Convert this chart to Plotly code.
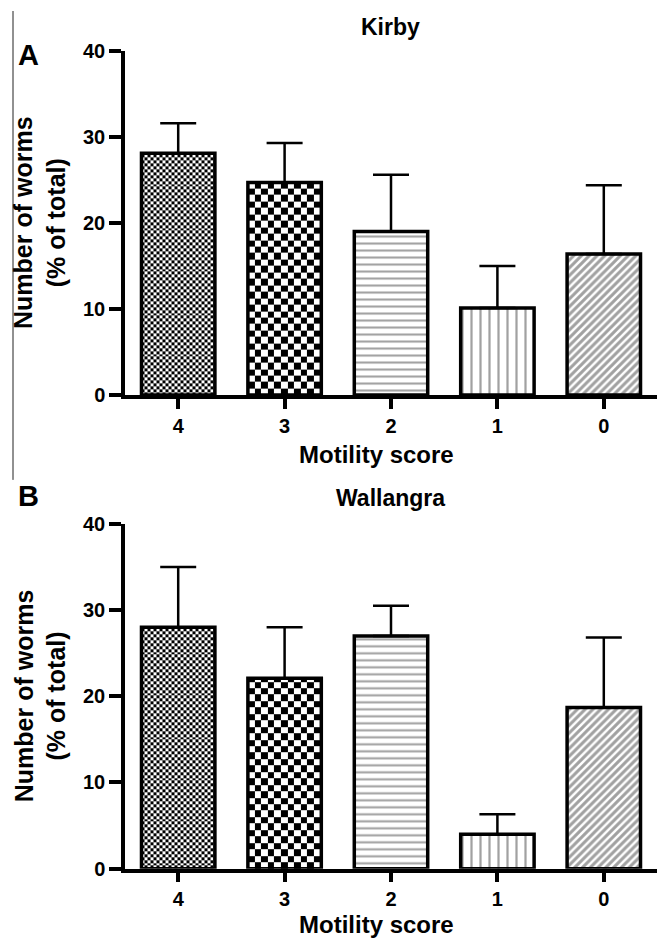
import numpy as np
import plotly.graph_objects as go

# ---------------- data ----------------
categories = ["4", "3", "2", "1", "0"]
kirby_mean = [28.1, 24.7, 19.0, 10.1, 16.4]
kirby_sem = [3.5, 4.6, 6.6, 4.9, 8.0]
wallangra_mean = [28.0, 22.1, 27.0, 4.0, 18.7]
wallangra_sem = [7.0, 5.9, 3.5, 2.3, 8.1]
panel_titles = ["Kirby", "Wallangra"]
panel_letters = ["A", "B"]
y_ticks = [0, 10, 20, 30, 40]

# ---------------- layout constants ----------------
W, H = 660, 949
L, R = 125, 3
PW = W - L - R
XR = [-0.5, 4.5]
YR = [0, 40]
BAR_W = 0.69
panels_px = [(41, 393), (525, 878)]  # (top, bottom) of plot areas in px
FONT = "Liberation Sans, Arial, Helvetica, sans-serif"

x_pos = list(range(len(categories)))
px_per_x = PW / (XR[1] - XR[0])

fig = go.Figure()

def checker(c, v, sq_px, px_per_y, xa, ya):
    dx = sq_px / px_per_x
    dy = sq_px / px_per_y
    x0, x1 = c - BAR_W / 2, c + BAR_W / 2
    xe = list(np.arange(x0, x1, dx)) + [x1]
    ye = list(np.arange(0, v, dy)) + [v]
    z = [[(i + j) % 2 for i in range(len(xe) - 1)] for j in range(len(ye) - 1)]
    return go.Heatmap(x=xe, y=ye, z=z, zmin=0, zmax=1,
                      colorscale=[[0, "white"], [1, "black"]],
                      showscale=False, hoverinfo="skip", xaxis=xa, yaxis=ya)

series = [(kirby_mean, kirby_sem), (wallangra_mean, wallangra_sem)]
for k, (means, sems) in enumerate(series):
    xa = "x" if k == 0 else "x2"
    ya = "y" if k == 0 else "y2"
    top, bot = panels_px[k]
    px_per_y = (bot - top) / (YR[1] - YR[0])
    # checkerboard textures for scores 4 and 3
    fig.add_trace(checker(x_pos[0], means[0], 3.0, px_per_y, xa, ya))
    fig.add_trace(checker(x_pos[1], means[1], 6.6, px_per_y, xa, ya))
    fig.add_trace(go.Bar(
        x=x_pos, y=means, width=BAR_W, xaxis=xa, yaxis=ya,
        marker=dict(
            color=["rgba(0,0,0,0)", "rgba(0,0,0,0)", "white", "white", "white"],
            line=dict(color="black", width=3.5),
            pattern=dict(shape=["", "", "-", "|", "/"],
                         size=[8, 8, 7, 9, 5.5],
                         solidity=[0.2, 0.2, 0.3, 0.25, 0.55],
                         fgcolor="black"),
        ),
        error_y=dict(type="data", symmetric=False, array=sems,
                     arrayminus=[0] * len(sems), color="black",
                     thickness=2.5, width=18),
        hoverinfo="skip",
    ))

axis_common = dict(showline=True, linecolor="black", linewidth=3.5,
                   showgrid=False, zeroline=False, ticks="outside",
                   tickcolor="black", tickwidth=3.5,
                   tickfont=dict(family=FONT, size=20, color="black", weight="bold"))

doms = [[1 - b / H, 1 - t / H] for (t, b) in panels_px]
fig.update_layout(
    width=W, height=H,
    margin=dict(l=L, r=R, t=0, b=0),
    paper_bgcolor="white", plot_bgcolor="white",
    showlegend=False, hovermode=False,
    xaxis=dict(domain=[0, 1], range=XR, tickvals=x_pos, ticktext=categories,
               ticklen=10, anchor="y", **axis_common),
    yaxis=dict(domain=doms[0], range=YR, tickvals=y_ticks, ticklen=12,
               anchor="x", **axis_common),
    xaxis2=dict(domain=[0, 1], range=XR, tickvals=x_pos, ticktext=categories,
                ticklen=10, anchor="y2", **axis_common),
    yaxis2=dict(domain=doms[1], range=YR, tickvals=y_ticks, ticklen=12,
                anchor="x2", **axis_common),
)

def px_x(p):
    return (p - L) / PW

def px_y(p):
    return 1 - p / H

title_y = [16, 499]
letter_y = [45, 497]
xtitle_y = [454, 935]
for k in range(2):
    top, bot = panels_px[k]
    fig.add_annotation(text=panel_titles[k], xref="paper", yref="paper",
                       x=px_x(390), y=px_y(title_y[k]), showarrow=False,
                       xanchor="center", yanchor="middle",
                       font=dict(family=FONT, size=23, color="black", weight="bold"))
    fig.add_annotation(text=panel_letters[k], xref="paper", yref="paper",
                       x=px_x(28), y=px_y(letter_y[k]), showarrow=False,
                       xanchor="center", yanchor="middle",
                       font=dict(family=FONT, size=29, color="black", weight="bold"))
    fig.add_annotation(text="Motility score", xref="paper", yref="paper",
                       x=px_x(376), y=px_y(xtitle_y[k]), showarrow=False,
                       xanchor="center", yanchor="middle",
                       font=dict(family=FONT, size=24, color="black", weight="bold"))
    fig.add_annotation(text="Number of worms<br>(% of total)", xref="paper", yref="paper",
                       x=px_x(40), y=px_y((top + bot) / 2), showarrow=False,
                       textangle=-90, xanchor="center", yanchor="middle",
                       font=dict(family=FONT, size=25, color="black", weight="bold"))

# thin frame line at left of panel A
fig.add_shape(type="line", xref="paper", yref="paper",
              x0=px_x(13), x1=px_x(13), y0=1, y1=px_y(480),
              line=dict(color="#222222", width=1))

fig.write_html("out.html",
               config={"displayModeBar": False},
               post_script="document.body.style.margin='0';document.body.style.padding='0';")
